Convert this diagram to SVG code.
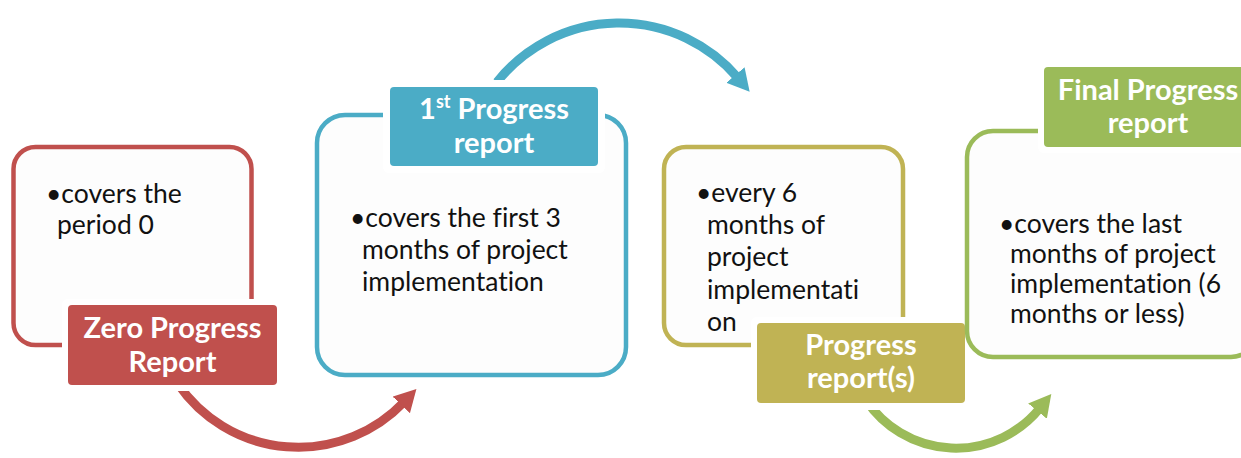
<svg xmlns="http://www.w3.org/2000/svg" width="1241" height="458" viewBox="0 0 1241 458">
<style>
.box{fill:#fdfdfd;stroke-width:4.5}
.halo{fill:#ffffff}
.lab{font-family:Lato,"Liberation Sans",sans-serif;font-weight:bold;font-size:29px;fill:#ffffff;text-anchor:middle;font-variant-ligatures:none}
.body{font-family:Lato,"Liberation Sans",sans-serif;font-size:26.5px;fill:#111111;font-variant-ligatures:none}
.conn{fill:none;stroke-width:9}
</style>
<defs>
<marker id="ah-red" markerUnits="userSpaceOnUse" markerWidth="30" markerHeight="30" refX="4" refY="12" orient="auto"><path d="M0,0 L22,12 L0,24 Z" fill="#C0504D"/></marker>
<marker id="ah-blue" markerUnits="userSpaceOnUse" markerWidth="30" markerHeight="30" refX="4" refY="12" orient="auto"><path d="M0,0 L22,12 L0,24 Z" fill="#4BACC6"/></marker>
<marker id="ah-green" markerUnits="userSpaceOnUse" markerWidth="30" markerHeight="30" refX="4" refY="12" orient="auto"><path d="M0,0 L22,12 L0,24 Z" fill="#9BBB59"/></marker>
</defs>
<g id="connectors">
<path class="conn" stroke="#C0504D" d="M178,384 A146,146 0 0 0 404,402" marker-end="url(#ah-red)"/>
<path class="conn" stroke="#4BACC6" d="M497,82 A156,156 0 0 1 738,78" marker-end="url(#ah-blue)"/>
<path class="conn" stroke="#9BBB59" d="M866,400 A108,108 0 0 0 1040,408" marker-end="url(#ah-green)"/>
</g>
<g id="node-zero">
<rect class="box" x="13.5" y="147" width="238" height="198" rx="22" stroke="#C0504D"/>
<text class="body" x="46" y="203">•covers the</text>
<text class="body" x="57" y="234">period 0</text>
<rect class="halo" x="62" y="299" width="221" height="92" rx="6"/>
<rect x="68" y="305" width="209" height="80" rx="4" fill="#C0504D"/>
<text class="lab" x="172.5" y="338">Zero Progress</text>
<text class="lab" x="172.5" y="372">Report</text>
</g>
<g id="node-first">
<rect class="box" x="317" y="115" width="309" height="260" rx="28" stroke="#4BACC6"/>
<text class="body" x="350" y="227">•covers the first 3</text>
<text class="body" x="362" y="259">months of project</text>
<text class="body" x="362" y="291">implementation</text>
<rect class="halo" x="383" y="80" width="222" height="93" rx="6"/>
<rect x="390" y="87" width="208" height="79" rx="4" fill="#4BACC6"/>
<text class="lab" x="494" y="119">1<tspan font-size="18" dy="-11">st</tspan><tspan dy="11"> Progress</tspan></text>
<text class="lab" x="494" y="153">report</text>
</g>
<g id="node-progress">
<rect class="box" x="664" y="147" width="239" height="198" rx="22" stroke="#C0B354"/>
<text class="body" x="696" y="202">•every 6</text>
<text class="body" x="707" y="234">months of</text>
<text class="body" x="707" y="266">project</text>
<text class="body" x="707" y="299">implementati</text>
<text class="body" x="707" y="331">on</text>
<rect class="halo" x="751" y="317" width="220" height="93" rx="6"/>
<rect x="757" y="323" width="208" height="80" rx="4" fill="#C0B354"/>
<text class="lab" x="861" y="355">Progress</text>
<text class="lab" x="861" y="388">report(s)</text>
</g>
<g id="node-final">
<rect class="box" x="967" y="131" width="290" height="226" rx="26" stroke="#9BBB59"/>
<text class="body" x="999" y="233">•covers the last</text>
<text class="body" x="1010" y="263">months of project</text>
<text class="body" x="1010" y="293">implementation (6</text>
<text class="body" x="1010" y="323">months or less)</text>
<rect class="halo" x="1038" y="61" width="220" height="92" rx="6"/>
<rect x="1044" y="67" width="210" height="80" rx="4" fill="#9BBB59"/>
<text class="lab" x="1148" y="100">Final Progress</text>
<text class="lab" x="1148" y="133">report</text>
</g>
</svg>
